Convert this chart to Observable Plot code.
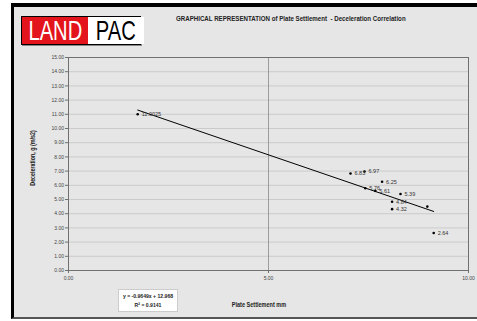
<!DOCTYPE html>
<html>
<head>
<meta charset="utf-8">
<script src="https://cdn.jsdelivr.net/npm/d3@7"></script>
<script src="https://cdn.jsdelivr.net/npm/@observablehq/plot@0.6"></script>
<style>
  html, body { margin: 0; padding: 0; background: #ffffff; }
  #page { position: relative; width: 477px; height: 321px; overflow: hidden; background: #ffffff; }
  #panel { position: absolute; left: 11px; top: 3px; width: 466px; height: 316px; background: #e6e6e6;
           border-top: 4px solid #000; border-left: 3px solid #000; border-bottom: 2px solid #555; box-sizing: border-box; }
  #chart { position: absolute; left: 0; top: 0; }
  .ov { position: absolute; font-family: "Liberation Sans", Arial, sans-serif; white-space: nowrap; }
  #logo { left: 21px; top: 16px; width: 118px; height: 27px; border: 1px solid #000; display: flex; background: #fff; box-shadow: 1px 1px 0 #888; }
  #logo .l { background: #e3141b; color: #fff; width: 66px; display: flex; align-items: center; justify-content: center; }
  #logo .r { background: #fff; color: #000; flex: 1; display: flex; align-items: center; justify-content: center; }
  #logo span { font-family: "Liberation Sans", sans-serif; font-size: 28px; line-height: 27px; display: inline-block; transform: scaleX(0.72); }
  #title { left: 176px; top: 14px; font-size: 7.5px; font-weight: bold; color: #222; transform: scaleX(0.82); transform-origin: 0 0; }
  #ylab { left: 32px; top: 158px; font-size: 6.5px; font-weight: bold; color: #222; transform: translate(-50%, -50%) rotate(-90deg) scaleX(0.82); }
  #xlab { left: 259px; top: 304px; font-size: 6.5px; font-weight: bold; color: #222; transform: translate(-50%, -50%) scaleX(0.85); }
  #eq { left: 118px; top: 289px; width: 60px; height: 23px; background: #fff; border: 0.5px solid #ccc; color: #222; text-align: center; padding-top: 2px; box-sizing: border-box; }
  #eq div { font-size: 5.8px; font-weight: bold; line-height: 9px; transform: scaleX(0.88); }
</style>
</head>
<body>
<div id="page">
  <div id="panel"></div>
  <div id="chart"></div>
  <div id="logo" class="ov"><div class="l"><span>LAND</span></div><div class="r"><span>PAC</span></div></div>
  <div id="title" class="ov">GRAPHICAL REPRESENTATION of Plate Settlement &nbsp;- Deceleration Correlation</div>
  <div id="ylab" class="ov">Deceleration, g (m/s2)</div>
  <div id="xlab" class="ov">Plate Settlement mm</div>
  <div id="eq" class="ov"><div id="eq1"></div><div id="eq2"></div></div>
</div>
<script>
// ---- data ----
const settlement   = [1.73, 7.05, 7.40, 7.84, 8.30, 8.09, 8.09, 7.42, 7.67, 8.97, 9.13];
const deceleration = [11.00, 6.83, 6.97, 6.25, 5.39, 4.84, 4.32, 5.79, 5.61, 4.50, 2.64];
const pointLabels  = ["11.0025", "6.83", "6.97", "6.25", "5.39", "4.84", "4.32", "5.76", "5.61", "", "2.64"];
const xTicks = [0, 5, 10];
const yTicks = d3.range(0, 16, 1);
const slope = -0.9649;
const intercept = 12.968;
const rSquared = 0.9141;

const points = settlement.map((x, i) => ({x, y: deceleration[i], label: pointLabels[i]}));
const xExt = d3.extent(settlement);
const fitLine = xExt.map(x => ({x, y: slope * x + intercept}));

document.getElementById("eq1").textContent = `y = ${slope}x + ${intercept}`;
document.getElementById("eq2").textContent = `R² = ${rSquared}`;

const chart = Plot.plot({
  width: 477,
  height: 321,
  marginLeft: 68,
  marginRight: 9,
  marginTop: 57,
  marginBottom: 51,
  style: { background: "transparent", fontFamily: "Liberation Sans, Arial, sans-serif", fontSize: "5px", color: "#333" },
  x: { domain: [0, 10] },
  y: { domain: [0, 15] },
  marks: [
    Plot.gridY(yTicks, { stroke: "#c4c4c4", strokeOpacity: 1, strokeWidth: 0.8 }),
    Plot.ruleX([5], { stroke: "#8a8a8a", strokeWidth: 0.8 }),
    Plot.frame({ stroke: "#707070", strokeWidth: 1 }),
    Plot.axisY(yTicks, { tickSize: 3, tickPadding: 1.5, tickFormat: d3.format(".2f"), stroke: "#707070", fill: "#444", fontSize: 5, label: null }),
    Plot.axisX(xTicks, { tickSize: 3, tickPadding: 3, tickFormat: d3.format(".2f"), stroke: "#707070", fill: "#444", fontSize: 5, label: null }),
    Plot.line(fitLine, { x: "x", y: "y", stroke: "#000", strokeWidth: 1 }),
    Plot.dot(points, { x: "x", y: "y", r: 1.3, fill: "#000", stroke: "none" }),
    Plot.text(points, { x: "x", y: "y", text: "label", dx: 4, textAnchor: "start", fontSize: 5.5, fill: "#333" })
  ]
});
document.getElementById("chart").appendChild(chart);
</script>
</body>
</html>
